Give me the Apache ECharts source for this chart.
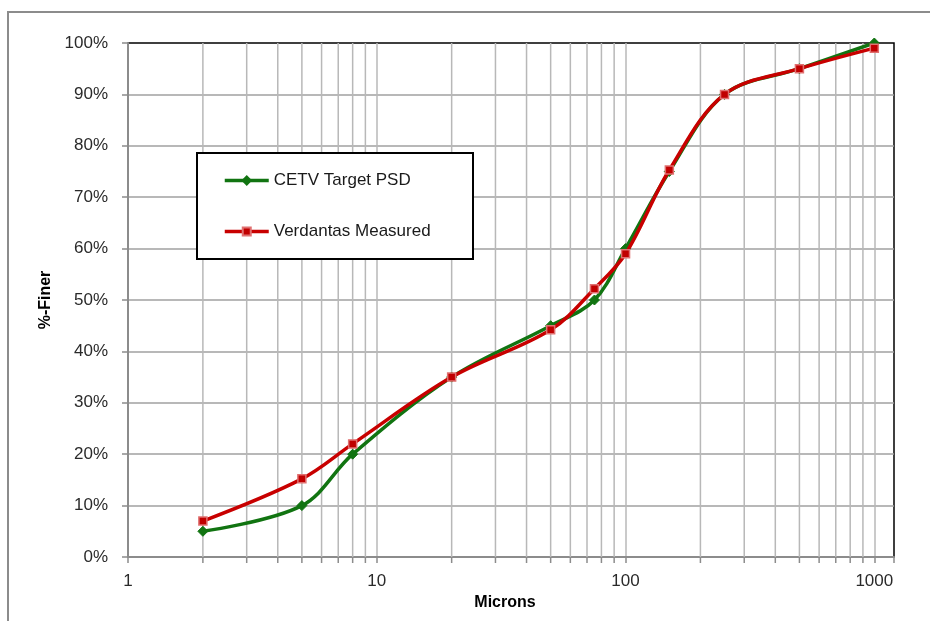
<!DOCTYPE html>
<html>
<head>
<meta charset="utf-8">
<script src="https://cdn.jsdelivr.net/npm/echarts@6/dist/echarts.min.js"></script>
<style>html,body{margin:0;padding:0;background:#fff;}#c{width:930px;height:621px;}</style>
</head>
<body>
<div id="c"></div>
<script>
// ---- data ----
var microns = [2, 5, 8, 20, 50, 75, 100, 150, 250, 500, 1000];
var cetvTarget = [5, 10, 20, 35, 45, 50, 60, 75, 90, 95, 100];
var verdantasMeasured = [7, 15.2, 22, 35, 44.2, 52.2, 59, 75.3, 90, 95, 99];
var xTickLabels = [1, 10, 100, 1000];
var minorGridValues = [2,3,4,5,6,7,8,9, 20,30,40,50,60,70,80,90, 200,300,400,500,600,700,800,900];
var seriesNames = ['CETV Target PSD', 'Verdantas Measured'];

var FONT = 'Liberation Sans, Arial, sans-serif';
var chart = echarts.init(document.getElementById('c'), null, {renderer: 'canvas'});

function pairs(xs, ys) { return xs.map(function (x, i) { return [x, ys[i]]; }); }

var option = {
  animation: false,
  backgroundColor: '#fff',
  grid: {left: 128, right: 36, top: 43, bottom: 64, show: true, borderColor: '#000', borderWidth: 1.5, backgroundColor: 'transparent'},
  graphic: [
    {type: 'rect', shape: {x: 8, y: 12, width: 960, height: 700}, style: {fill: 'none', stroke: '#8c8c8c', lineWidth: 2}, z: 0, silent: true},
    {type: 'rect', shape: {x: 197, y: 153, width: 276, height: 106}, style: {fill: '#fff', stroke: '#000', lineWidth: 2}, z: 10, silent: true}
  ],
  legend: {
    data: seriesNames,
    orient: 'vertical',
    left: 223, top: 172,
    padding: 0,
    itemWidth: 44, itemHeight: 10,
    itemGap: 34,
    z: 20,
    lineStyle: {width: 3.5},
    textStyle: {fontFamily: FONT, fontSize: 17, color: '#1a1a1a'}
  },
  xAxis: {
    type: 'log', logBase: 10, min: 1, max: 1200,
    name: 'Microns', nameLocation: 'middle', nameGap: 34,
    nameTextStyle: {fontFamily: FONT, fontSize: 16, fontWeight: 'bold', color: '#000', padding: [0, 12, 0, 0]},
    axisLine: {lineStyle: {color: '#8c8c8c', width: 2}},
    axisTick: {show: true, length: 6, lineStyle: {color: '#8c8c8c', width: 1.5}},
    axisLabel: {fontFamily: FONT, fontSize: 17, color: '#2a2a2a', margin: 16,
      formatter: function (v) { var r = Math.round(v); return xTickLabels.indexOf(r) >= 0 && Math.abs(v - r) < 1e-6 ? String(r) : ''; }},
    splitLine: {show: true, showMinLine: false, showMaxLine: false, lineStyle: {color: '#b8b8b8', width: 1.5}},
    minorTick: {show: false}, minorSplitLine: {show: false}
  },
  yAxis: {
    type: 'value', min: 0, max: 100, interval: 10,
    name: '%-Finer', nameLocation: 'middle', nameGap: 74,
    nameTextStyle: {fontFamily: FONT, fontSize: 16, fontWeight: 'bold', color: '#000'},
    axisLine: {show: true, lineStyle: {color: '#8c8c8c', width: 2}},
    axisTick: {show: true, length: 6, lineStyle: {color: '#8c8c8c', width: 1.5}},
    axisLabel: {fontFamily: FONT, fontSize: 17, color: '#2a2a2a', margin: 20, formatter: '{value}%'},
    splitLine: {show: true, showMinLine: false, showMaxLine: false, lineStyle: {color: '#a0a0a0', width: 1.5}}
  },
  series: [
    {
      type: 'custom', name: 'minorGrid', z: 1, silent: true, clip: false,
      data: minorGridValues.map(function (v) { return [v, 0]; }),
      renderItem: function (params, api) {
        var x = api.value(0);
        var p0 = api.coord([x, 0]);
        var p1 = api.coord([x, 100]);
        return {type: 'group', children: [
          {type: 'line', shape: {x1: p0[0], y1: p0[1], x2: p1[0], y2: p1[1]}, style: {stroke: '#b8b8b8', lineWidth: 1.5}},
          {type: 'line', shape: {x1: p0[0], y1: p0[1], x2: p0[0], y2: p0[1] + 6}, style: {stroke: '#8c8c8c', lineWidth: 1.5}}
        ]};
      }
    },
    {
      name: seriesNames[0], type: 'line', z: 6, smooth: 0.35,
      data: pairs(microns, cetvTarget),
      symbol: 'diamond', symbolSize: 10,
      lineStyle: {color: '#117411', width: 3.5},
      itemStyle: {color: '#117411', borderColor: '#117411', borderWidth: 1}
    },
    {
      name: seriesNames[1], type: 'line', z: 7, smooth: 0.35,
      data: pairs(microns, verdantasMeasured),
      symbol: 'rect', symbolSize: 8,
      lineStyle: {color: '#c80000', width: 3.5},
      itemStyle: {color: '#c00000', borderColor: '#e07070', borderWidth: 1.5}
    }
  ]
};
chart.setOption(option);
</script>
</body>
</html>
